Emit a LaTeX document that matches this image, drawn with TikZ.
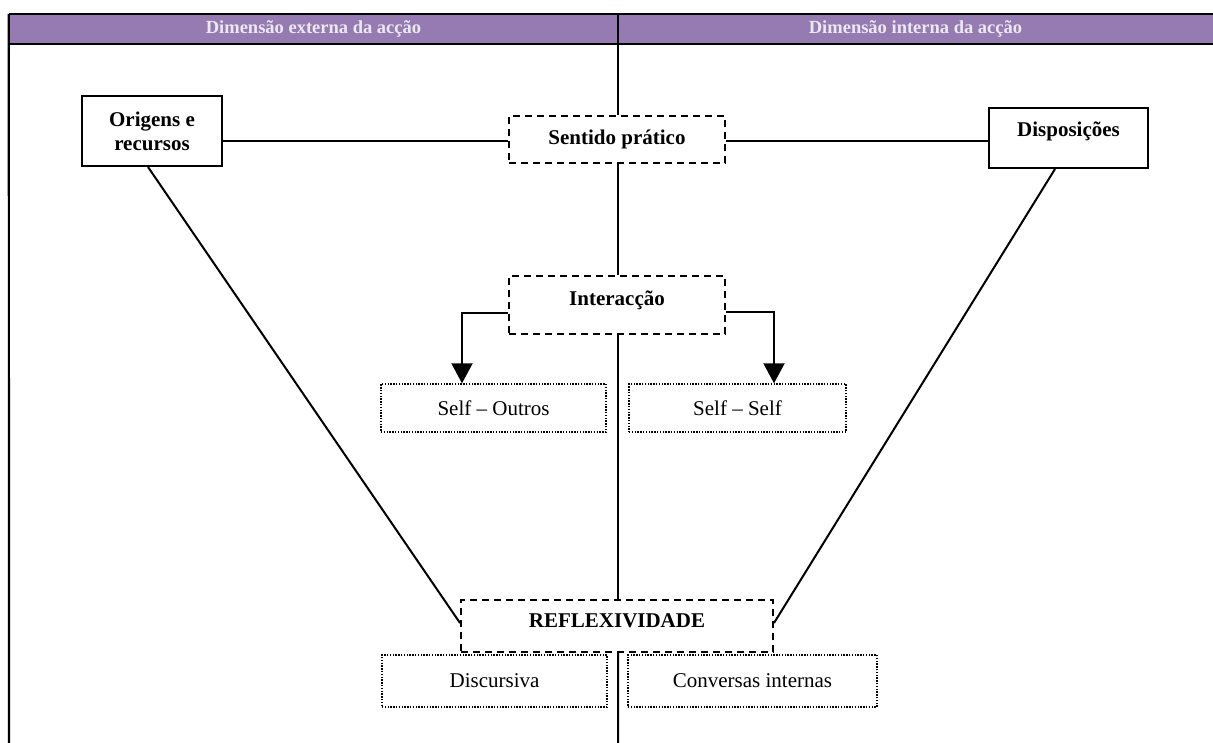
\documentclass[tikz,border=0pt]{standalone}
\usepackage{fontspec}
\setmainfont{Liberation Serif}
\usetikzlibrary{arrows.meta}
\definecolor{hdr}{RGB}{149,123,178}
\definecolor{hdrtext}{RGB}{236,232,242}
\begin{document}
\begin{tikzpicture}[x=1pt,y=-1pt,
  line/.style={line width=2pt},
  solidbox/.style={draw,line width=2pt,rectangle,inner sep=0pt,align=center,font=\fontsize{21}{24}\selectfont\bfseries},
  dashbox/.style={draw,line width=2pt,dash pattern=on 7pt off 5pt,rectangle,inner sep=0pt,align=center,font=\fontsize{21}{24}\selectfont\bfseries},
  dotbox/.style={draw,line width=1.4pt,dash pattern=on 1.4pt off 1.4pt,rectangle,inner sep=0pt,align=center,font=\fontsize{21}{24}\selectfont},
  hbox/.style={fill=hdr,rectangle,inner sep=0pt,text=hdrtext,font=\fontsize{18.5}{21}\selectfont\bfseries},
  arr/.style={line width=2pt,-{Triangle[width=21pt,length=20pt]}}]
\useasboundingbox (0,0) rectangle (1213,743);
% header
\node[hbox,minimum width=609,minimum height=30] (hl) at (313.5,29) {Dimensão externa da acção};
\node[hbox,minimum width=595,minimum height=30] (hr) at (915.5,29) {Dimensão interna da acção};
\draw[line width=2.2pt] (hl.north west) -- (hr.north east);
\draw[line width=2.2pt] (hl.south west) -- (hr.south east);
\coordinate (bl) at (9,743);
\draw[line width=2.2pt] (hl.north west) -- (bl);
\draw[line width=2.2pt] (hl.north east) -- (hl.south east);
% nodes
\node[solidbox,minimum width=140,minimum height=70] (or) at (152,131) {Origens e\\recursos};
\node[dashbox,minimum width=216,minimum height=47] (sp) at (617,139.5) {Sentido prático};
\node[solidbox,minimum width=159,minimum height=60,text depth=18pt] (di) at (1068.5,138) {Disposições};
\node[dashbox,minimum width=216,minimum height=58,text depth=14pt] (in) at (617,305) {Interacção};
\node[dotbox,minimum width=225,minimum height=48] (so) at (493.5,408) {Self – Outros};
\node[dotbox,minimum width=217,minimum height=48] (ss) at (737.5,408) {Self – Self};
\node[dashbox,minimum width=312,minimum height=52,text depth=10pt] (re) at (617,626) {REFLEXIVIDADE};
\node[dotbox,minimum width=225,minimum height=52] (dc) at (494.5,681) {Discursiva};
\node[dotbox,minimum width=249,minimum height=52] (ci) at (752.5,681) {Conversas internas};
\coordinate (bc) at (618,743);
% connectors
\draw[line] (hl.south east) -- (sp.north -| hl.south east);
\draw[line] ([yshift=-1.5]sp.west) -- ([yshift=-1.5]sp.west -| or.east);
\draw[line] ([yshift=-1.5]sp.east) -- ([yshift=-1.5]sp.east -| di.west);
\draw[line] (sp.south -| hl.south east) -- (in.north -| hl.south east);
\draw[line] (in.south -| hl.south east) -- (re.north -| hl.south east);
\draw[line] (re.south -| hl.south east) -- (bc);
\draw[line] ([xshift=-4]or.south) -- ([yshift=3]re.west);
\draw[line] ([xshift=-13.5]di.south) -- ([yshift=3]re.east);
\draw[arr] ([yshift=-8]in.west) -| ([xshift=-31.5]so.north);
\draw[arr] ([yshift=-7]in.east) -| ([xshift=36.5]ss.north);
\end{tikzpicture}
\end{document}
